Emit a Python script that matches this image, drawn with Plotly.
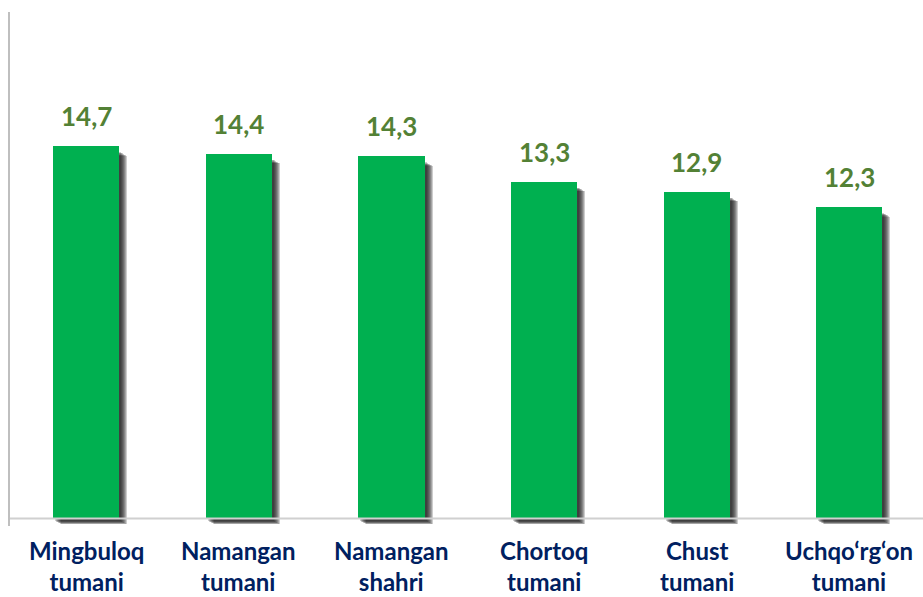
import plotly.graph_objects as go

categories = ["Mingbuloq<br>tumani", "Namangan<br>tumani", "Namangan<br>shahri",
              "Chortoq<br>tumani", "Chust<br>tumani", "Uchqo‘rg‘on<br>tumani"]
values = [14.7, 14.4, 14.3, 13.3, 12.9, 12.3]
labels = ["14,7", "14,4", "14,3", "13,3", "12,9", "12,3"]

x = list(range(len(values)))
bar_w = 0.433
px = 5.983 / 913.0  # x units per pixel
py = 20.3 / 514.0  # y units per pixel

fig = go.Figure()

# soft shadow layers
for k in range(7):
    fig.add_trace(go.Bar(
        x=x, y=[v - (6 + k * 0.6) * py + (3 + k * 0.5) * py for v in values],
        base=[-(3 + k * 0.5) * py] * len(values),
        width=bar_w, offset=-bar_w / 2 + (2 + k * 1.0) * px,
        marker=dict(color="rgba(20,20,20,0.21)", line=dict(width=0)),
        hoverinfo="skip", showlegend=False,
    ))

fig.add_trace(go.Bar(
    x=x, y=values, width=bar_w, offset=-bar_w / 2,
    marker=dict(color="#00B050", line=dict(width=0)),
    showlegend=False,
))

for xi, v, t in zip(x, values, labels):
    fig.add_annotation(x=xi, y=v, text=f"<b>{t}</b>", showarrow=False, yanchor="bottom",
                       yshift=12, font=dict(family="Lato", size=26, color="#538135"))

for xi, c in zip(x, categories):
    fig.add_annotation(x=xi, y=0, text=f"<b>{c}</b>", showarrow=False, yanchor="top",
                       yshift=-16, font=dict(family="Lato", size=24, color="#002060"))

fig.add_shape(type="line", xref="paper", yref="y", x0=0, x1=1, y0=0, y1=0,
              line=dict(color="#D0D0D0", width=2))

fig.update_layout(
    width=923, height=597,
    margin=dict(l=10, r=0, t=12, b=71),
    plot_bgcolor="white", paper_bgcolor="white",
    barmode="overlay", bargap=0,
    font=dict(family="Lato"),
)
fig.update_xaxes(
    range=[-0.5, 5.483], tickvals=x, showticklabels=False, automargin=False,
    showgrid=False, zeroline=False, showline=False, ticks="",
)
fig.update_yaxes(
    range=[-0.3, 20], showticklabels=False, showgrid=False, zeroline=False,
    showline=True, linecolor="#BFBFBF", linewidth=2, ticks="", automargin=False,
)

fig.write_html("out.html", config={"displayModeBar": False},
               post_script="document.body.style.margin='0';")
